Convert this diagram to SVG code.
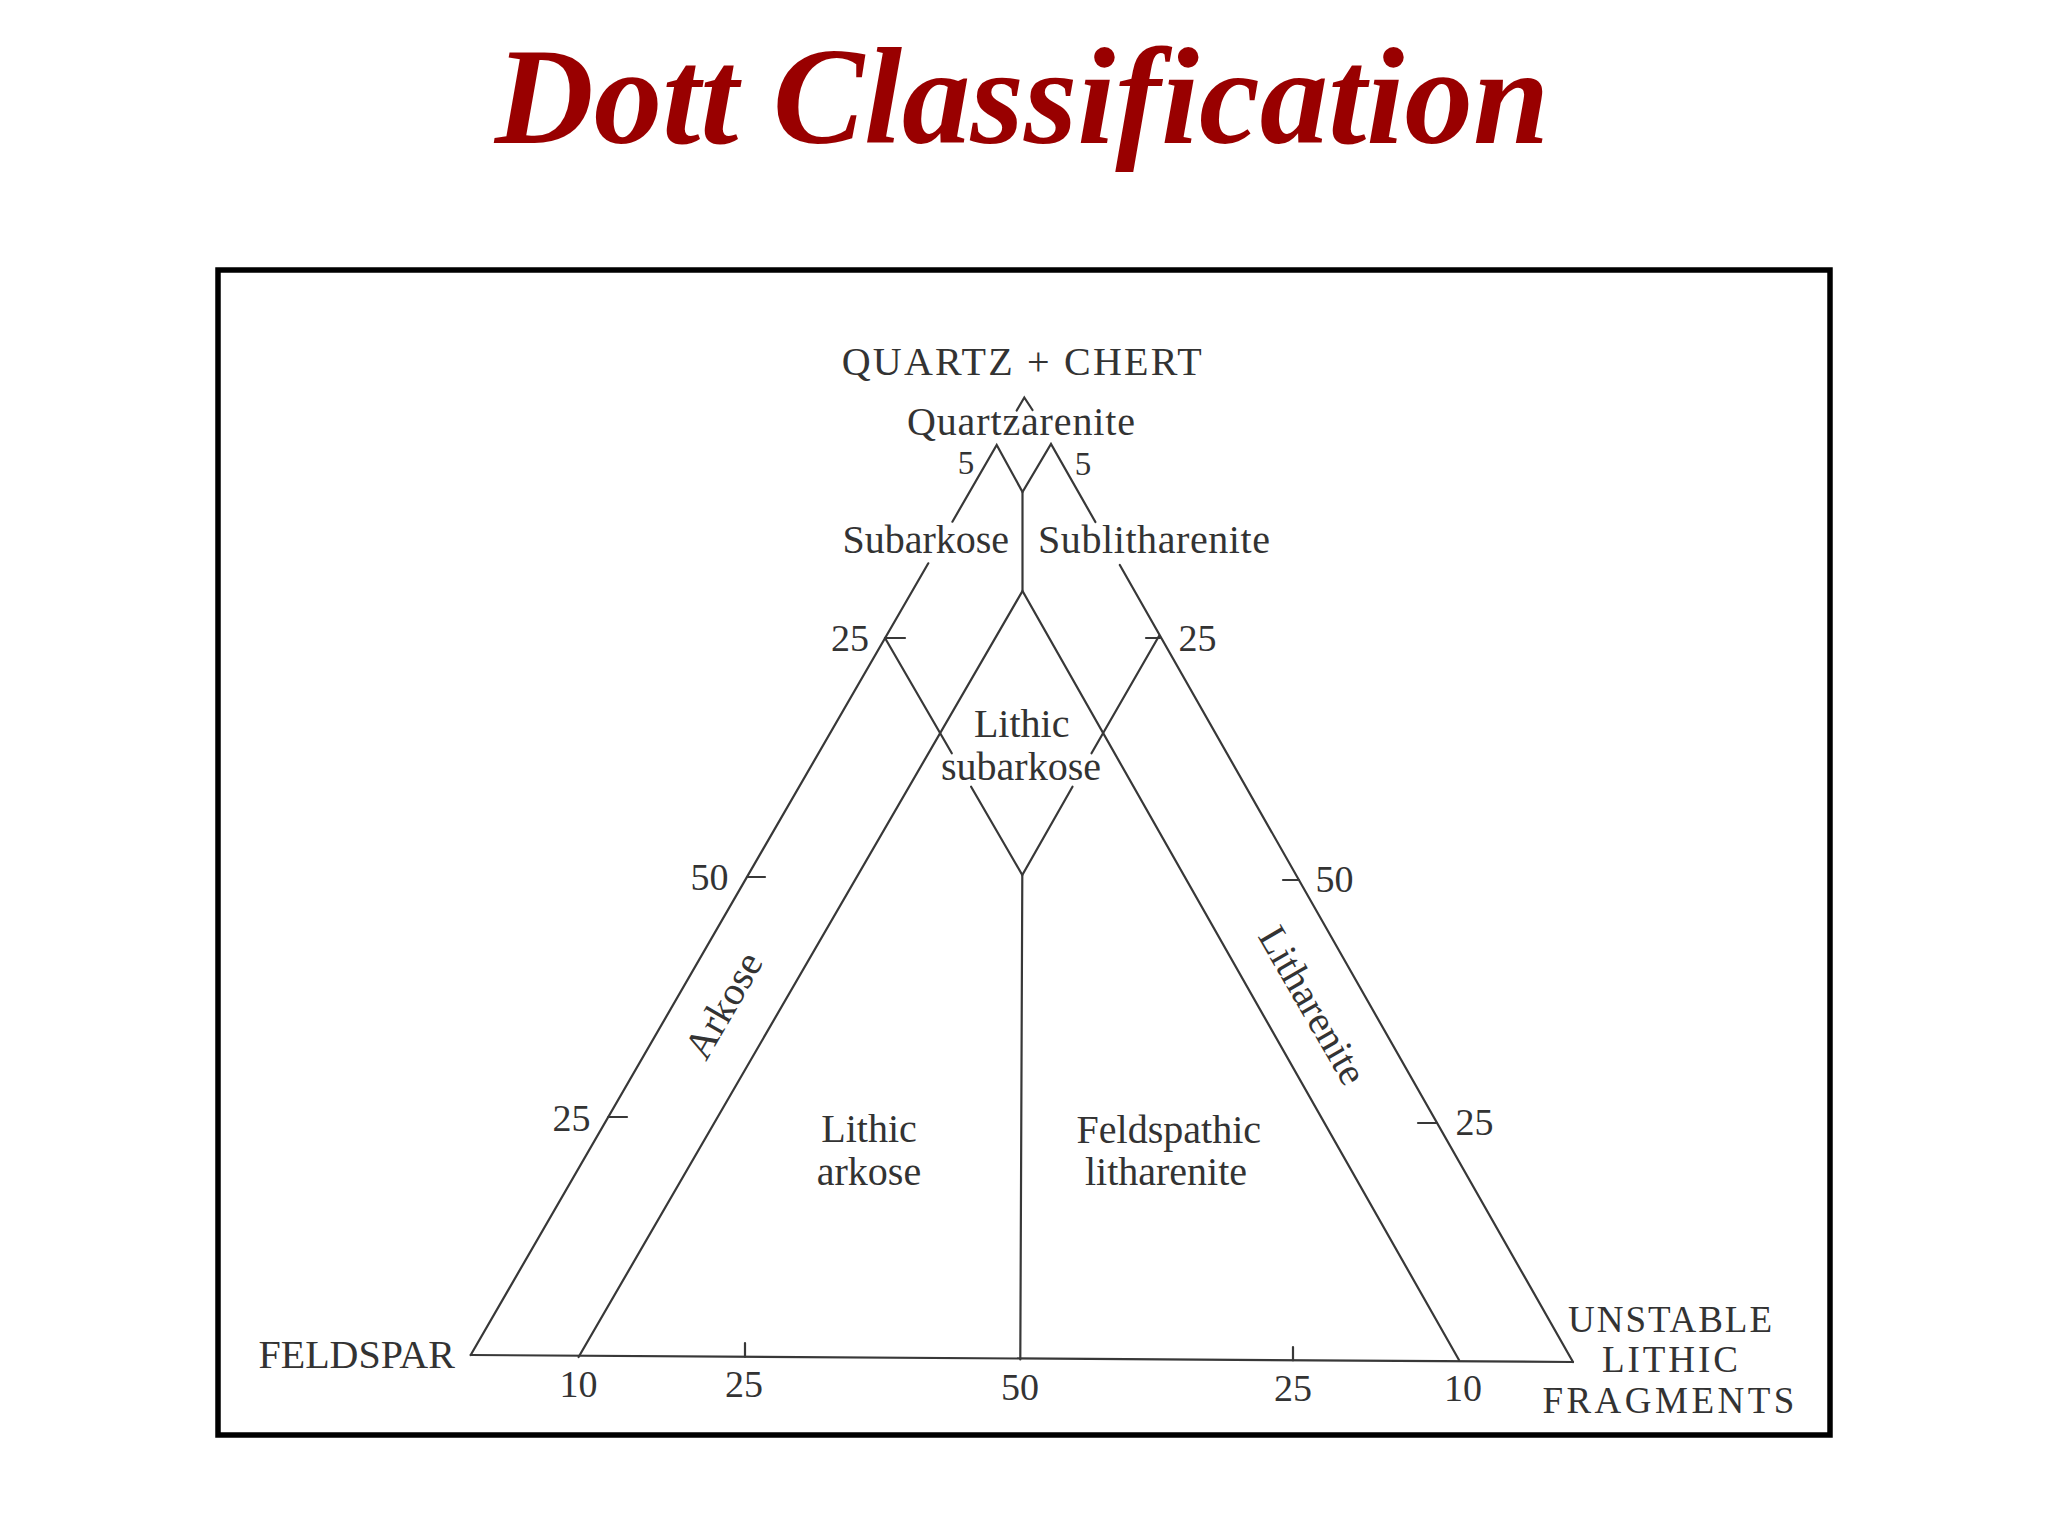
<svg xmlns="http://www.w3.org/2000/svg" width="2048" height="1536" viewBox="0 0 2048 1536">
<style>
.ln{fill:none;stroke:#383838;stroke-width:2.2;stroke-linecap:round;stroke-linejoin:miter}
.t{font-family:"Liberation Serif","Times New Roman",serif;font-size:40px;fill:#333333;text-anchor:middle}
.c{font-family:"Liberation Serif","Times New Roman",serif;font-size:37px;fill:#333333;text-anchor:middle}
.n{font-family:"Liberation Serif","Times New Roman",serif;font-size:38px;fill:#333333;text-anchor:middle}
.s{font-family:"Liberation Serif","Times New Roman",serif;font-size:33px;fill:#333333;text-anchor:middle}
.title{font-family:"Liberation Serif","Times New Roman",serif;font-size:137px;font-weight:bold;font-style:italic;fill:#990000;text-anchor:middle}
</style>
<rect x="0" y="0" width="2048" height="1536" fill="#ffffff"/>
<text class="title" x="1022" y="143">Dott Classification</text>
<rect x="218" y="270" width="1612" height="1165" fill="#ffffff" stroke="#000000" stroke-width="5.5"/>

<g id="connectors">
  <polyline class="ln" points="470.7,1355 928.3,563.3"/>
  <polyline class="ln" points="952.4,521.7 996.7,445 1022.5,492 1051,444 1095.4,522"/>
  <polyline class="ln" points="1119.8,565 1573,1362"/>
  <polyline class="ln" points="470.7,1355 1573,1362"/>
  <polyline class="ln" points="1022.5,492 1022.5,592"/>
  <polyline class="ln" points="1022.3,875 1020.3,1359.5"/>
  <polyline class="ln" points="578.6,1357 1022.5,591 1459,1360"/>
  <polyline class="ln" points="885,638 951.8,753.3"/>
  <polyline class="ln" points="971.1,786.7 1022.3,875 1072.5,786.7"/>
  <polyline class="ln" points="1091.5,753.3 1159,636"/>
  <polyline class="ln" points="1016.7,410.5 1024.3,397.5 1032.5,410"/>
  <line class="ln" x1="885" y1="638" x2="905" y2="638"/>
  <line class="ln" x1="747" y1="877" x2="765" y2="877"/>
  <line class="ln" x1="608.3" y1="1117" x2="627" y2="1117"/>
  <line class="ln" x1="1146" y1="638" x2="1160" y2="638"/>
  <line class="ln" x1="1283" y1="880" x2="1299" y2="880"/>
  <line class="ln" x1="1418" y1="1123" x2="1437" y2="1123"/>
  <line class="ln" x1="745" y1="1343" x2="745" y2="1356.8"/>
  <line class="ln" x1="1293" y1="1347" x2="1293" y2="1360.3"/>
</g>

<g id="apex-labels">
  <text class="t" x="1021.7" y="375" textLength="360" lengthAdjust="spacing">QUARTZ + CHERT</text>
  <text class="t" x="1021" y="435" textLength="228" lengthAdjust="spacing">Quartzarenite</text>
  <text class="s" x="966" y="474">5</text>
  <text class="s" x="1083" y="475">5</text>
</g>
<g id="subarkose"><text class="t" x="925.8" y="553">Subarkose</text></g>
<g id="sublitharenite"><text class="t" x="1154" y="553" textLength="232" lengthAdjust="spacing">Sublitharenite</text></g>
<g id="lithic-subarkose">
  <text class="t" x="1021.7" y="736.7">Lithic</text>
  <text class="t" x="1021" y="780">subarkose</text>
</g>
<g id="arkose"><text class="t" transform="translate(735,1012) rotate(-60)" x="0" y="0">Arkose</text></g>
<g id="litharenite"><text class="t" transform="translate(1301,1012) rotate(60)" x="0" y="0">Litharenite</text></g>
<g id="lithic-arkose">
  <text class="t" x="869" y="1141.7">Lithic</text>
  <text class="t" x="869" y="1185">arkose</text>
</g>
<g id="feldspathic-litharenite">
  <text class="t" x="1168.8" y="1143">Feldspathic</text>
  <text class="t" x="1166" y="1185">litharenite</text>
</g>
<g id="feldspar"><text class="t" x="356.7" y="1368">FELDSPAR</text></g>
<g id="unstable-lithic-fragments">
  <text class="c" x="1670" y="1331.5" textLength="204" lengthAdjust="spacing">UNSTABLE</text>
  <text class="c" x="1670" y="1372" textLength="136" lengthAdjust="spacing">LITHIC</text>
  <text class="c" x="1668.4" y="1413" textLength="252" lengthAdjust="spacing">FRAGMENTS</text>
</g>
<g id="scale-labels">
  <text class="n" x="850" y="650.7">25</text>
  <text class="n" x="1197.5" y="651">25</text>
  <text class="n" x="709.5" y="890">50</text>
  <text class="n" x="1334.5" y="892">50</text>
  <text class="n" x="571.5" y="1131">25</text>
  <text class="n" x="1474.5" y="1135">25</text>
  <text class="n" x="578.4" y="1396.7">10</text>
  <text class="n" x="744" y="1396.5">25</text>
  <text class="n" x="1020" y="1400">50</text>
  <text class="n" x="1293" y="1401">25</text>
  <text class="n" x="1463" y="1401">10</text>
</g>
</svg>
